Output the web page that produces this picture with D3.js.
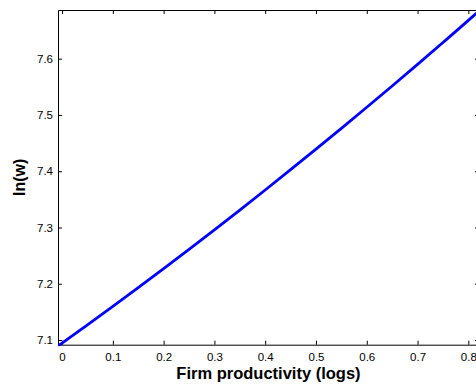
<!DOCTYPE html>
<html>
<head>
<meta charset="utf-8">
<script src="https://cdn.jsdelivr.net/npm/d3@7"></script>
<style>
  html, body { margin: 0; padding: 0; background: #fff; overflow: hidden; }
  svg { display: block; }
  text { font-family: "Liberation Sans", Arial, Helvetica, sans-serif; fill: #000; }
</style>
</head>
<body>
<svg id="chart" width="476" height="385"></svg>
<script>
// Log firm productivity and the resulting log wage
const productivity = [-0.008, 0, 0.05, 0.1, 0.15, 0.2, 0.25, 0.3, 0.35, 0.4, 0.45, 0.5, 0.55, 0.6, 0.65, 0.7, 0.75, 0.8, 0.821];
const logWage = [7.0895, 7.0945, 7.1269, 7.1598, 7.1931, 7.2269, 7.2611, 7.2958, 7.3310, 7.3666, 7.4027, 7.4392, 7.4762, 7.5136, 7.5515, 7.5899, 7.6287, 7.6680, 7.6850];
const xTicks = [0, 0.1, 0.2, 0.3, 0.4, 0.5, 0.6, 0.7, 0.8];
const yTicks = [7.1, 7.2, 7.3, 7.4, 7.5, 7.6];

const svg = d3.select("#chart");
const plotLeft = 58, plotRight = 479, plotTop = 10, plotBottom = 344.7;

const x = d3.scaleLinear().domain([-0.008, 0.821]).range([plotLeft, plotRight]);
const y = d3.scaleLinear().domain([7.0917, 7.6865]).range([plotBottom, plotTop]);

const fmt = d => d === 0 ? "0" : d3.format(".1f")(d);
const tickLen = 4;

// clip the curve to the axes box
svg.append("defs").append("clipPath").attr("id", "plot-area")
  .append("rect")
  .attr("x", plotLeft).attr("y", plotTop - 1.5)
  .attr("width", plotRight - plotLeft).attr("height", plotBottom - plotTop + 3);

// bottom axis (ticks point inward)
const xAxisB = svg.append("g").attr("transform", `translate(0,${plotBottom})`)
  .call(d3.axisBottom(x).tickValues(xTicks).tickFormat(fmt).tickSizeInner(-tickLen).tickSizeOuter(0).tickPadding(8));
// top axis, ticks only
const xAxisT = svg.append("g").attr("transform", `translate(0,${plotTop})`)
  .call(d3.axisTop(x).tickValues(xTicks).tickFormat("").tickSizeInner(-tickLen).tickSizeOuter(0));
// left axis
const yAxisL = svg.append("g").attr("transform", `translate(${plotLeft},0)`)
  .call(d3.axisLeft(y).tickValues(yTicks).tickFormat(d3.format(".1f")).tickSizeInner(-tickLen).tickSizeOuter(0).tickPadding(5));
// right axis, ticks only
const yAxisR = svg.append("g").attr("transform", `translate(${plotRight},0)`)
  .call(d3.axisRight(y).tickValues(yTicks).tickFormat("").tickSizeInner(-tickLen).tickSizeOuter(0));

[xAxisB, xAxisT, yAxisL, yAxisR].forEach(g => {
  g.select(".domain").attr("stroke", "#000").attr("stroke-width", 1);
  g.selectAll(".tick line").attr("stroke", "#000").attr("stroke-width", 1);
  g.selectAll(".tick text").attr("font-size", 11.5).attr("font-family", "Liberation Sans, Arial, sans-serif").attr("fill", "#000");
});
xAxisB.selectAll(".tick text").attr("dy", "0.71em").attr("y", 8);

// the log-wage curve
const line = d3.line().curve(d3.curveMonotoneX).x((d, i) => x(productivity[i])).y(d => y(d));
svg.append("path")
  .datum(logWage)
  .attr("d", line)
  .attr("clip-path", "url(#plot-area)")
  .attr("fill", "none")
  .attr("stroke", "#0000ff")
  .attr("stroke-width", 2.8)
  .attr("stroke-linejoin", "round");

// axis titles
svg.append("text")
  .attr("x", (plotLeft + plotRight) / 2)
  .attr("y", 379)
  .attr("text-anchor", "middle")
  .attr("font-size", 16.5)
  .attr("font-weight", "bold")
  .text("Firm productivity (logs)");

svg.append("text")
  .attr("transform", `translate(25,${(plotTop + plotBottom) / 2}) rotate(-90)`)
  .attr("text-anchor", "middle")
  .attr("font-size", 16)
  .attr("font-weight", "bold")
  .text("ln(w)");
</script>
</body>
</html>
